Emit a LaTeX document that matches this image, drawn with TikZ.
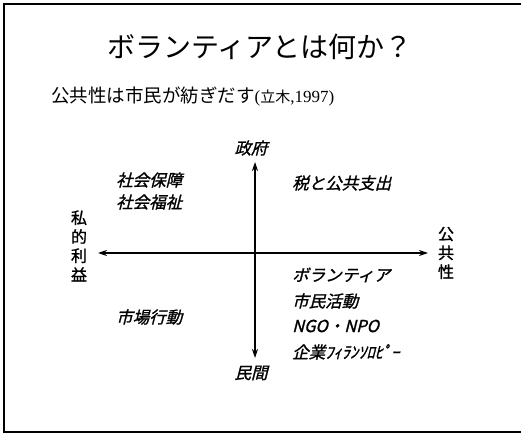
\documentclass[tikz,border=0pt]{standalone}
\usepackage{fontspec}
\newfontfamily\jp{Noto Sans CJK JP}
\newfontfamily\jpi{Noto Sans CJK JP}[FakeSlant=0.25,FakeBold=1.2]
\newfontfamily\jpb{Noto Sans CJK JP}[FakeBold=1.2]
\newfontfamily\ser{Liberation Serif}
\usetikzlibrary{arrows.meta}
\begin{document}
\begin{tikzpicture}[x=1pt,y=-1pt,
  lab/.style={font=\jpi\fontsize{16.5}{19}\selectfont, inner sep=0pt},
  vlab/.style={font=\jpb\fontsize{16}{19}\selectfont, inner sep=0pt, align=center},
  axisline/.style={line width=1.3pt, {Stealth[length=9pt,width=6pt]}-{Stealth[length=9pt,width=6pt]}}]
\useasboundingbox (0,0) rectangle (521,435);
\draw[line width=1.2pt] (521,4) -- (4,4) -- (4,432) -- (521,432);
\node[font=\jp\fontsize{28}{30}\selectfont, inner sep=0pt] (title) at (260,47) {ボランティアとは何か？};
\node[anchor=west, inner sep=0pt, font=\jp\fontsize{18.5}{20}\selectfont] (sub) at (51,96)
  {公共性は市民が紡ぎだす{\ser\fontsize{17}{18}\selectfont(}{\fontsize{15}{16}\selectfont 立木}{\ser\fontsize{17}{18}\selectfont,1997)}};
\node[lab] (gov) at (251,148) {政府};
\node[lab] (min) at (251,373) {民間};
\node[vlab] (shi) at (79,246) {私\\的\\利\\益};
\node[vlab] (pub) at (446,253) {公\\共\\性};
\coordinate (ytop) at (255,162);
\coordinate (ybot) at (255,358);
\coordinate (xl) at (98,253);
\coordinate (xr) at (428,253);
\draw[axisline] (ytop) -- (ybot);
\draw[axisline] (xl) -- (xr);
\node[lab, anchor=west] (q1) at (116,180) {社会保障};
\node[lab, anchor=west] (q2) at (116,202) {社会福祉};
\node[lab, anchor=west] (q3) at (292,183) {税と公共支出};
\node[lab, anchor=west] (q4) at (116,317) {市場行動};
\node[lab, anchor=west] (q5) at (292,275) {ボランティア};
\node[lab, anchor=west] (q6) at (292,301) {市民活動};
\node[lab, anchor=west] (q7) at (292,326) {NGO・NPO};
\node[lab, anchor=west] (q8) at (292,352) {企業ﾌｨﾗﾝｿﾛﾋﾟｰ};
\end{tikzpicture}
\end{document}
